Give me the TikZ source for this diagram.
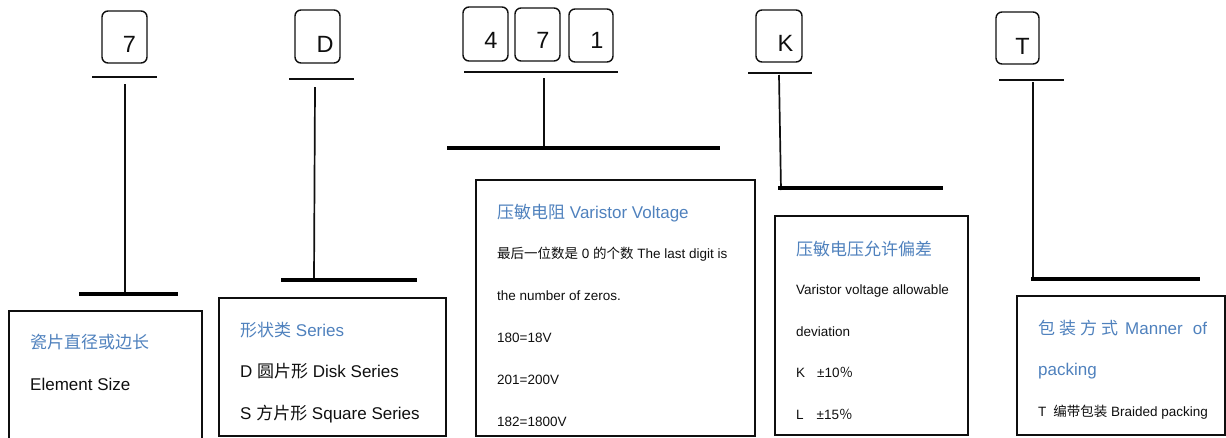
\documentclass[tikz,border=0pt]{standalone}
\usepackage{fontspec}
\setmainfont{Liberation Sans}
\newfontfamily\cjk{Noto Sans CJK SC}
\definecolor{headblue}{RGB}{79,129,189}
\definecolor{ink}{RGB}{15,15,15}
\tikzset{
  symbox/.style={draw=ink, line width=1.4pt, rounded corners=6pt, inner sep=0pt},
  symtxt/.style={anchor=base, inner sep=0pt, text=ink, font=\fontsize{23.5}{26}\selectfont},
  infobox/.style={draw=ink, line width=1.6pt, inner sep=0pt},
  headtxt/.style={anchor=base west, inner sep=0pt, text=headblue, font=\fontsize{17}{20}\selectfont},
  bigtxt/.style={anchor=base west, inner sep=0pt, text=ink, font=\fontsize{17}{20}\selectfont},
  smalltxt/.style={anchor=base west, inner sep=0pt, text=ink, font=\fontsize{13.5}{16}\selectfont},
  thinbar/.style={draw=ink, line width=1.4pt},
  stem/.style={draw=ink, line width=1.7pt},
  thickbar/.style={draw=black, line width=3.2pt}
}
\begin{document}
\begin{tikzpicture}[x=1pt, y=-1pt]
\useasboundingbox (0,0) rectangle (1226,437);
\clip (0,0) rectangle (1226,437);

% ---- code letters ----
\node[symbox, minimum width=45pt, minimum height=52pt] (s7) at (124.5,37) {};
\node[symtxt] (t7) at (129.5,52) {7};
\node[symbox, minimum width=45pt, minimum height=53pt] (sD) at (317.5,36.5) {};
\node[symtxt] (tD) at (325,52) {D};
\node[symbox, minimum width=45pt, minimum height=54pt] (s4) at (485.5,34) {};
\node[symtxt] (t4) at (491,48.5) {4};
\node[symbox, minimum width=45pt, minimum height=53pt] (s7b) at (537.5,34.5) {};
\node[symtxt] (t7b) at (543,48.5) {7};
\node[symbox, minimum width=44pt, minimum height=53pt] (s1) at (591,35.5) {};
\node[symtxt] (t1) at (597,48.5) {1};
\node[symbox, minimum width=46pt, minimum height=52pt] (sK) at (779,36) {};
\node[symtxt] (tK) at (785.5,51) {K};
\node[symbox, minimum width=43pt, minimum height=52pt] (sT) at (1017.5,38) {};
\node[symtxt] (tT) at (1022.5,54) {T};

% ---- bar / stem / bar leaders ----
\coordinate (a1l) at (92,77);   \coordinate (a1r) at (157,77);
\coordinate (v1t) at (125,84);  \coordinate (v1b) at (125,292);
\coordinate (b1l) at (79,294);  \coordinate (b1r) at (178,294);
\draw[thinbar] (a1l) -- (a1r);
\draw[stem] (v1t) -- (v1b);
\draw[thickbar] (b1l) -- (b1r);

\coordinate (a2l) at (289,79);  \coordinate (a2r) at (354,79);
\coordinate (v2t) at (315,87);  \coordinate (v2b) at (314,280);
\coordinate (b2l) at (281,280); \coordinate (b2r) at (417,280);
\draw[thinbar] (a2l) -- (a2r);
\draw[stem] (v2t) -- (v2b);
\draw[thickbar] (b2l) -- (b2r);

\coordinate (a3l) at (464,72);  \coordinate (a3r) at (618,72);
\coordinate (v3t) at (544,78);  \coordinate (v3b) at (544,148);
\coordinate (b3l) at (447,148); \coordinate (b3r) at (720,148);
\draw[thinbar] (a3l) -- (a3r);
\draw[stem] (v3t) -- (v3b);
\draw[thickbar] (b3l) -- (b3r);

\coordinate (a4l) at (748,73);  \coordinate (a4r) at (812,73);
\coordinate (v4t) at (779,75);  \coordinate (v4b) at (781,190);
\coordinate (b4l) at (778,188); \coordinate (b4r) at (943,188);
\draw[thinbar] (a4l) -- (a4r);
\draw[stem] (v4t) -- (v4b);
\draw[thickbar] (b4l) -- (b4r);

\coordinate (a5l) at (999,80);   \coordinate (a5r) at (1064,80);
\coordinate (v5t) at (1033,82);  \coordinate (v5b) at (1033,279);
\coordinate (b5l) at (1031,279); \coordinate (b5r) at (1200,279);
\draw[thinbar] (a5l) -- (a5r);
\draw[stem] (v5t) -- (v5b);
\draw[thickbar] (b5l) -- (b5r);

% ---- description boxes ----
\node[infobox, minimum width=193pt, minimum height=134pt] (i1) at (105.5,378) {};
\node[headtxt] (h1) at (30,348) {\cjk 瓷片直径或边长};
\node[bigtxt] (l1a) at (30,390) {Element Size};

\node[infobox, minimum width=227pt, minimum height=138pt] (i2) at (332.5,367) {};
\node[headtxt] (h2) at (240,336) {{\cjk 形状类} Series};
\node[bigtxt] (l2a) at (240,377) {D {\cjk 圆片形} Disk Series};
\node[bigtxt] (l2b) at (240,419) {S {\cjk 方片形} Square Series};

\node[infobox, minimum width=279pt, minimum height=256pt] (i3) at (615.5,308) {};
\node[headtxt] (h3) at (497,218) {{\cjk 压敏电阻} Varistor Voltage};
\node[smalltxt] (l3a) at (497,258) {{\cjk 最后一位数是} 0 {\cjk 的个数} The last digit is};
\node[smalltxt] (l3b) at (497,300.5) {the number of zeros.};
\node[smalltxt] (l3c) at (497,342) {180=18V};
\node[smalltxt] (l3d) at (497,384) {201=200V};
\node[smalltxt] (l3e) at (497,426) {182=1800V};

\node[infobox, minimum width=193pt, minimum height=219pt] (i4) at (871.5,325.5) {};
\node[headtxt] (h4) at (796,255) {\cjk 压敏电压允许偏差};
\node[smalltxt] (l4a) at (796,294) {Varistor voltage allowable};
\node[smalltxt] (l4b) at (796,336) {deviation};
\node[smalltxt] (l4c) at (796,377) {K\hspace{12pt}±10{\cjk ％}};
\node[smalltxt] (l4d) at (796,419) {L\hspace{13pt}±15{\cjk ％}};

\node[infobox, minimum width=208pt, minimum height=139pt] (i5) at (1121,365.5) {};
\node[headtxt] (h5) at (1038,334) {{\cjk 包}\hspace{4pt}{\cjk 装}\hspace{4pt}{\cjk 方}\hspace{4pt}{\cjk 式}\hspace{7pt}Manner\hspace{10pt}of};
\node[headtxt] (h5b) at (1038,375.5) {packing};
\node[smalltxt] (l5a) at (1038,416.5) {T\hspace{7pt}{\cjk 编带包装} Braided packing};
\end{tikzpicture}
\end{document}
